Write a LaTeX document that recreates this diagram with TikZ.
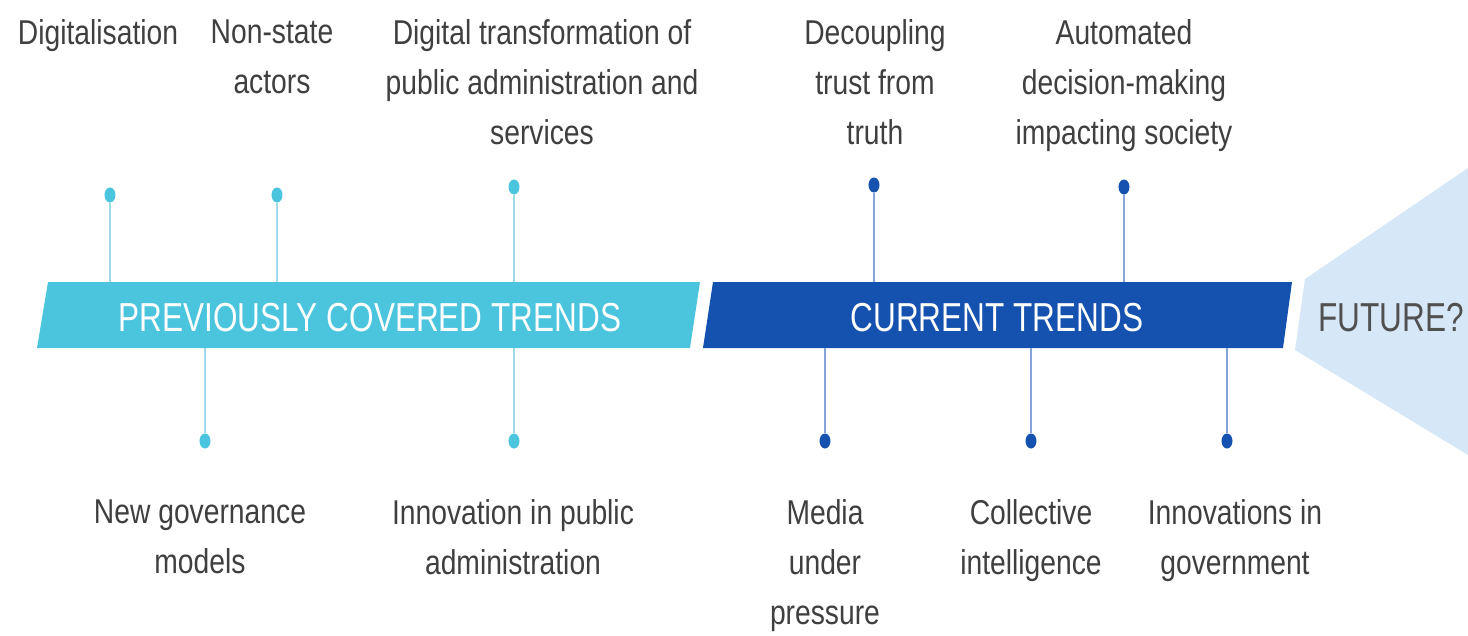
\documentclass[tikz,border=0pt]{standalone}
\usepackage{fontspec}
\setmainfont{Liberation Sans}[FakeStretch=0.82]
\newfontfamily\bandfont{Liberation Sans}[FakeStretch=0.78]
\usepackage{tikz}
\usetikzlibrary{shapes.geometric}

\definecolor{prevblue}{HTML}{4BC4DE}
\definecolor{prevstem}{HTML}{9FD9EA}
\definecolor{currblue}{HTML}{1551AE}
\definecolor{currstem}{HTML}{86A4D8}
\definecolor{futblue}{HTML}{D6E8F8}
\definecolor{labelgray}{HTML}{3F3F3F}
\definecolor{futgray}{HTML}{505050}

\begin{document}
\begin{tikzpicture}[x=0.01cm,y=-0.01cm,
    lbl/.style={align=center,text=labelgray,inner sep=0pt,
      font=\fontsize{9.8}{14.2}\selectfont},
    bandtxt/.style={inner sep=0pt,font=\bandfont\fontsize{11.5}{13}\selectfont},
    pdot/.style={ellipse,fill=prevblue,inner sep=0pt,minimum width=0.11cm,minimum height=0.15cm},
    cdot/.style={ellipse,fill=currblue,inner sep=0pt,minimum width=0.11cm,minimum height=0.15cm},
    pline/.style={draw=prevstem,line width=0.6pt},
    cline/.style={draw=currstem,line width=0.6pt}]
    \useasboundingbox (0,0) rectangle (1468,635);
    % bands
    \fill[prevblue] (48,282) -- (700,282) -- (690,348) -- (37,348) -- cycle;
    \fill[currblue] (713,282) -- (1292,282) -- (1283,348) -- (703,348) -- cycle;
    \fill[futblue] (1305,279) -- (1468,168) -- (1468,455) -- (1295,350) -- cycle;
    \coordinate (bandtop) at (0,282);
    \coordinate (bandbot) at (0,348);
    \node[bandtxt,text=white] (prev) at (370,318) {PREVIOUSLY COVERED TRENDS};
    \node[bandtxt,text=white] (curr) at (997,318) {CURRENT TRENDS};
    \node[bandtxt,text=futgray] (fut) at (1391,318) {FUTURE?};
    % dots
    \node[pdot] (dig) at (110,195) {};
    \node[pdot] (nsa) at (277,195) {};
    \node[pdot] (dtp) at (514,187) {};
    \node[cdot] (dec) at (874,185) {};
    \node[cdot] (adm) at (1124,187) {};
    \node[pdot] (ngm) at (205,441) {};
    \node[pdot] (ipa) at (514,441) {};
    \node[cdot] (med) at (825,441) {};
    \node[cdot] (col) at (1031,441) {};
    \node[cdot] (ing) at (1227,441) {};
    % stems
    \foreach \d in {dig,nsa,dtp} \draw[pline] (\d) -- (\d |- bandtop);
    \foreach \d in {dec,adm} \draw[cline] (\d) -- (\d |- bandtop);
    \foreach \d in {ngm,ipa} \draw[pline] (\d |- bandbot) -- (\d);
    \foreach \d in {med,col,ing} \draw[cline] (\d |- bandbot) -- (\d);
    % labels
    \node[lbl,anchor=north] (digT) at (98,19) {Digitalisation};
    \node[lbl,anchor=north] (nsaT) at (272,19) {Non-state\\actors};
    \node[lbl,anchor=north] (dtpT) at (542,19) {Digital transformation of\\public administration and\\services};
    \node[lbl,anchor=north] (decT) at (875,19) {Decoupling\\trust from\\truth};
    \node[lbl,anchor=north] (admT) at (1124,19) {Automated\\decision-making\\impacting society};
    \node[lbl,anchor=north] (ngmT) at (200,499) {New governance\\models};
    \node[lbl,anchor=north] (ipaT) at (513,499) {Innovation in public\\administration};
    \node[lbl,anchor=north] (medT) at (825,499) {Media\\under\\pressure};
    \node[lbl,anchor=north] (colT) at (1031,499) {Collective\\intelligence};
    \node[lbl,anchor=north] (ingT) at (1235,499) {Innovations in\\government};
\end{tikzpicture}
\end{document}
